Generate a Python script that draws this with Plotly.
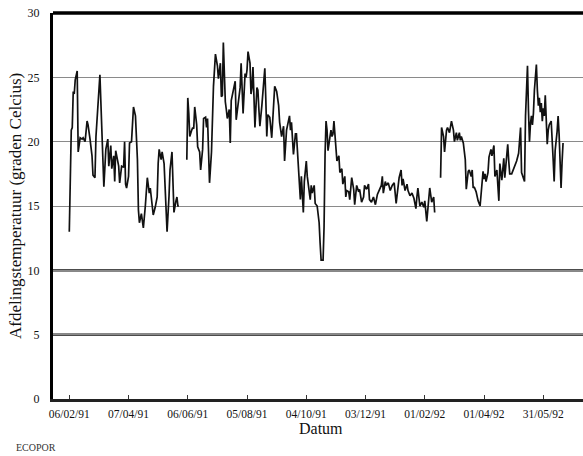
import pandas as pd
import plotly.graph_objects as go

# ---------------- data ----------------
start_date = "1991-02-06"

seg1_days = [0, 2, 3, 4, 5, 6, 8, 9, 11, 13, 14, 16, 18, 19, 21, 23, 24, 26, 27, 29, 30, 31,
             35, 37, 39, 40, 42, 43, 45, 46, 47, 49, 50, 51, 53, 55, 56, 57, 58, 60, 61, 63,
             65, 67, 69, 70, 71, 73, 75, 77, 79, 81, 82, 83, 85, 87, 89, 90, 91, 93, 94, 96,
             97, 99, 101, 102, 104, 105, 106, 108, 109, 110, 111]
seg1_temp = [13.0, 20.9, 21.1, 23.9, 23.7, 24.8, 25.5, 19.2, 20.3, 20.2, 20.3, 20.0, 21.6, 21.3,
             20.2, 18.9, 17.4, 17.2, 20.4, 22.5, 24.2, 25.2,
             16.5, 19.4, 20.2, 18.1, 19.7, 17.9, 18.9, 16.9, 19.3, 18.4, 18.1, 16.8, 18.1, 18.0,
             20.0, 16.7, 16.4, 17.3, 19.9, 20.0,
             22.7, 22.0, 18.6, 14.7, 13.7, 14.4, 13.3, 15.0, 17.2, 16.0, 16.4, 15.7, 14.3, 14.9,
             15.7, 18.3, 19.4, 18.6, 19.2, 18.3,
             16.1, 13.0, 15.8, 17.8, 19.2, 16.8, 14.5, 15.4, 15.7, 15.0, 15.0]

seg2_days = [119, 120, 121, 122, 124, 125, 126, 127, 129, 130, 132, 133, 135, 136, 138, 139, 140,
             141, 142, 144, 145, 146, 148, 150, 151, 153, 154, 155, 156, 157, 158, 159, 160, 162,
             163, 164, 166, 168, 169, 171, 173, 174, 175, 176, 178, 179, 180, 181, 183, 184, 185,
             186, 187, 188, 190, 191, 192, 193, 195, 196, 198, 199, 200, 201, 203, 205, 207, 208,
             210, 212, 213, 215, 217, 218, 220, 222, 223, 224, 225, 227, 229, 230, 231, 233, 234,
             235, 237, 238, 240, 241, 242, 244, 245, 246, 248, 249, 251, 252, 253, 254, 255, 257,
             258, 259, 260, 261, 262, 264, 265, 266, 267, 268, 270, 271, 273, 274, 276, 277, 279,
             280, 281, 283, 284, 286, 288, 289, 291, 293, 294, 296, 298, 299, 301, 303, 304, 306,
             308, 310, 312, 314, 316, 317, 318, 320, 321, 323, 325, 327, 329, 331, 333, 334, 336,
             337, 338, 340, 342, 343, 345, 347, 349, 351, 352, 353, 355, 357, 359, 360, 362, 364,
             365, 367, 369, 370]
seg2_temp = [18.6, 23.4, 22.2, 20.4, 20.9, 21.1, 21.0, 22.7, 21.3, 19.6, 19.2, 17.8, 19.4, 21.8,
             21.9, 21.1, 21.8,
             19.6, 16.8, 19.2, 22.5, 24.3, 26.8, 25.9, 24.9, 26.1, 23.5, 23.6, 27.7, 24.8, 23.1,
             22.5, 21.8, 22.5,
             19.9, 23.2, 23.9, 24.7, 21.7, 22.8, 24.2, 26.1, 23.4, 22.2, 25.3, 25.0, 25.6, 27.0,
             26.1, 23.7, 24.2,
             25.8, 23.5, 21.1, 24.2, 24.0, 22.5, 21.2, 22.8, 23.7, 25.7, 23.3, 20.4, 22.1, 21.9,
             20.3, 22.8, 24.3,
             23.9, 22.8, 21.5, 20.4, 21.2, 18.5, 20.9, 21.5, 22.0, 20.9, 21.5, 19.0, 20.6, 20.6,
             19.4, 17.6, 15.5,
             17.3, 14.5, 16.9, 18.5, 17.3, 16.6, 15.5, 16.6, 16.0, 16.6, 15.2, 15.0, 14.5, 13.7,
             12.1, 10.8, 10.8,
             13.4, 19.0, 21.6, 20.9, 19.3, 20.4, 20.9, 20.4, 20.6, 21.6, 19.6, 18.5, 18.9, 17.6,
             17.9, 16.7, 17.3,
             15.7, 16.2, 16.1, 15.5, 17.2, 16.3, 15.1, 16.6, 16.1, 16.3, 15.3, 15.7, 16.6, 16.3,
             16.7, 15.5, 15.3,
             15.7, 15.1, 15.9, 16.3, 16.6, 17.3, 16.0, 16.9, 16.6, 16.8, 16.2, 16.6, 16.8, 15.2,
             16.9, 17.2, 17.8,
             16.6, 17.1, 16.2, 16.7, 16.2, 15.8, 16.0, 15.6, 14.8, 15.7, 16.4, 15.0, 15.3, 14.9,
             15.4, 13.8, 15.7,
             16.4, 15.3, 15.7, 14.5]

seg3_days = [376, 377, 379, 380, 382, 383, 385, 386, 387, 389, 390, 392, 393, 395, 396, 397, 399,
             401, 402, 404, 405, 407, 408, 409, 410, 412, 414, 416, 417, 419, 420, 421, 422, 424,
             425, 427, 428, 430, 431, 433, 435, 436, 438, 440, 441, 442, 444, 445, 446, 448, 450,
             451, 453, 455, 456, 457, 458, 459, 461, 462, 463, 464, 465, 466, 467, 468, 469, 470,
             471, 472, 473, 474, 475, 476, 477, 478, 479, 480, 481, 482, 484, 485, 486, 488, 489,
             490, 491, 492, 494, 495, 496, 497, 498, 499, 500]
seg3_temp = [17.2, 21.1, 20.4, 19.2, 20.9, 21.1, 20.7, 21.3, 21.6, 20.9, 20.0, 20.7, 20.1, 20.7,
             20.1, 20.4, 19.9,
             18.6, 16.3, 17.7, 17.8, 17.3, 17.8, 16.4, 16.5, 16.1, 15.4, 15.0, 16.0, 17.7, 17.1,
             17.5, 16.9, 17.6,
             18.8, 19.4, 18.9, 19.7, 17.3, 17.8, 15.4, 18.3, 17.0, 18.7, 17.2, 18.0, 19.8, 18.5,
             17.5, 17.5, 17.9,
             18.0, 18.5, 19.1, 20.3, 21.1, 17.6, 17.3, 16.9, 22.0, 24.8, 25.9, 22.4, 20.0, 21.4,
             22.0, 21.3, 22.2,
             24.0, 25.3, 26.0, 24.0, 22.8, 23.4, 22.3, 23.0, 21.6, 22.6, 22.0, 23.6, 19.8, 20.9,
             21.3, 21.6, 20.4,
             18.6, 16.9, 19.3, 20.8, 22.0, 20.6, 18.6, 16.4, 18.4, 19.9]

tick_dates = ["1991-02-06", "1991-04-07", "1991-06-06", "1991-08-05", "1991-10-04",
              "1991-12-03", "1992-02-01", "1992-04-01", "1992-05-31"]
tick_labels = ["06/02/91", "07/04/91", "06/06/91", "05/08/91", "04/10/91",
               "03/12/91", "01/02/92", "01/04/92", "31/05/92"]
y_ticks = [0, 5, 10, 15, 20, 25, 30]

# ---------------- figure ----------------
SERIF = "Liberation Serif, Times New Roman, serif"
t0 = pd.Timestamp(start_date)

fig = go.Figure()
for days, temps in [(seg1_days, seg1_temp), (seg2_days, seg2_temp), (seg3_days, seg3_temp)]:
    dates = t0 + pd.to_timedelta(days, unit="D")
    fig.add_trace(go.Scatter(x=dates, y=temps, mode="lines",
                             line=dict(color="#111111", width=1.7),
                             showlegend=False, hoverinfo="skip"))

# heavy grid lines at 5 and 10
for yv in (5, 10):
    fig.add_shape(type="line", xref="paper", yref="y", x0=0, x1=1, y0=yv, y1=yv,
                  line=dict(color="#111111", width=2.2), layer="below")
# thick top border
fig.add_shape(type="line", xref="paper", yref="paper", x0=0, x1=1, y0=1, y1=1,
              line=dict(color="#000000", width=3.5))

fig.update_layout(
    width=583, height=456,
    margin=dict(l=53, r=0, t=13, b=57),
    paper_bgcolor="white", plot_bgcolor="white",
    font=dict(family=SERIF, color="#111111"),
    xaxis=dict(
        type="date",
        range=["1991-01-20 12:00", "1992-07-10 05:00"],
        tickvals=tick_dates, ticktext=tick_labels,
        tickfont=dict(size=11.5, family=SERIF, color="#111111"),
        showgrid=False, zeroline=False,
        showline=True, linecolor="#222222", linewidth=2.5,
        ticks="inside", ticklen=4, tickcolor="#333333", tickwidth=1,
        ticklabelstandoff=2,
    ),
    yaxis=dict(
        range=[0, 30], tickvals=y_ticks,
        tickfont=dict(size=12, family=SERIF, color="#111111"),
        showgrid=True, gridcolor="#8a8a8a", gridwidth=1,
        zeroline=False, showline=True, linecolor="#000000", linewidth=3,
        ticks="", ticklabelstandoff=8,
    ),
    annotations=[
        dict(text="Afdelingstemperatuur (graden Celcius)", xref="paper", yref="paper",
             x=-38 / 530, y=0.5, xanchor="center", yanchor="middle", textangle=-90,
             showarrow=False, font=dict(size=17, family=SERIF, color="#111111")),
        dict(text="Datum", xref="paper", yref="paper", x=(320.5 - 53) / 530, y=-29 / 386,
             xanchor="center", yanchor="middle", showarrow=False,
             font=dict(size=16, family=SERIF, color="#111111")),
        dict(text="ECOPOR", xref="paper", yref="paper", x=-39 / 530, y=-48 / 386,
             xanchor="left", yanchor="middle", showarrow=False,
             font=dict(size=10, family=SERIF, color="#333333")),
    ],
)

fig.write_html("out.html", config={"displayModeBar": False},
               post_script="document.body.style.margin='0';document.body.style.overflow='hidden';")
